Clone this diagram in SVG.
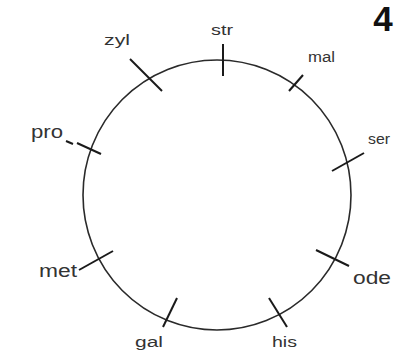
<svg xmlns="http://www.w3.org/2000/svg" width="408" height="350" viewBox="0 0 408 350">
<style>
.c{fill:none;stroke:#2a2a2a;stroke-width:1.6}
.t{stroke:#1a1a1a;stroke-width:2;fill:none;stroke-linecap:butt}
.l{font-family:"Liberation Sans",Arial,sans-serif;font-size:14px;fill:#333}
.b{font-size:18px}
</style>
<rect width="408" height="350" fill="#fff"/>
<g id="ring"><ellipse class="c" cx="217" cy="195" rx="134" ry="135"/></g>
<g id="connectors">
<line class="t" x1="223" y1="44" x2="223" y2="76"/>
<line class="t" x1="130" y1="59" x2="162" y2="91"/>
<line class="t" x1="303" y1="75" x2="289" y2="91"/>
<line class="t" x1="364" y1="153" x2="332" y2="171"/>
<line class="t" x1="77" y1="143" x2="101" y2="154"/>
<line class="t" x1="66" y1="141" x2="73" y2="144"/>
<line class="t" x1="79" y1="270" x2="113" y2="251"/>
<line class="t" x1="177" y1="298" x2="163" y2="327"/>
<line class="t" x1="269" y1="298" x2="287" y2="327"/>
<line class="t" x1="316" y1="250" x2="349" y2="266"/>
</g>
<g id="str"><text class="l" x="211" y="35" textLength="22" lengthAdjust="spacingAndGlyphs">str</text></g>
<g id="zyl"><text class="l" x="104" y="45" textLength="26" lengthAdjust="spacingAndGlyphs">zyl</text></g>
<g id="mal"><text class="l" x="308" y="62" textLength="27" lengthAdjust="spacingAndGlyphs">mal</text></g>
<g id="ser"><text class="l" x="368" y="144" textLength="22" lengthAdjust="spacingAndGlyphs">ser</text></g>
<g id="pro"><text class="l b" x="31" y="138" textLength="32" lengthAdjust="spacingAndGlyphs">pro</text></g>
<g id="met"><text class="l b" x="39" y="277" textLength="38" lengthAdjust="spacingAndGlyphs">met</text></g>
<g id="gal"><text class="l" x="135" y="347" textLength="28" lengthAdjust="spacingAndGlyphs">gal</text></g>
<g id="his"><text class="l" x="272" y="347" textLength="25" lengthAdjust="spacingAndGlyphs">his</text></g>
<g id="ode"><text class="l b" x="353" y="284" textLength="38" lengthAdjust="spacingAndGlyphs">ode</text></g>
<g id="num"><text x="383" y="31" text-anchor="middle" font-family="Liberation Sans,Arial,sans-serif" font-weight="bold" font-size="35" fill="#111">4</text></g>
</svg>
